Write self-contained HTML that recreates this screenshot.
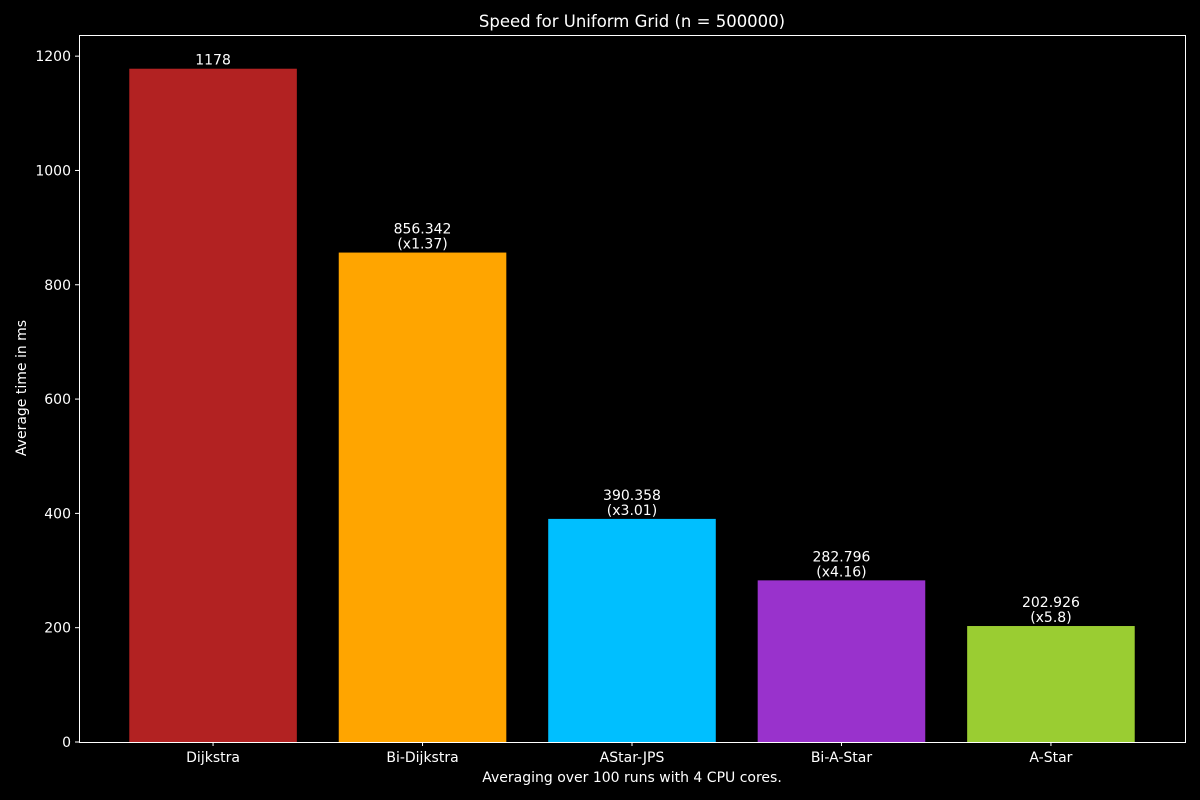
<!DOCTYPE html>
<html><head><meta charset="utf-8"><style>
html,body{margin:0;padding:0;background:#000;overflow:hidden;width:1200px;height:800px;}
svg{display:block;}
svg text{font-family:"DejaVu Sans","Liberation Sans",sans-serif;fill:#fff;}
</style></head><body>
<svg id="chart" width="1200" height="800" xmlns="http://www.w3.org/2000/svg">
<rect width="1200" height="800" fill="#000"/>
<text x="632" y="27" font-size="16.5" text-anchor="middle">Speed for Uniform Grid (n = 500000)</text>
<text x="632" y="782" font-size="14" text-anchor="middle">Averaging over 100 runs with 4 CPU cores.</text>
<text transform="translate(26,388) rotate(-90)" font-size="14" text-anchor="middle">Average time in ms</text>
<g id="bars"></g>
<g id="axes"></g>
</svg>
<script>
const categories=["Dijkstra","Bi-Dijkstra","AStar-JPS","Bi-A-Star","A-Star"];
const values=[1178,856.342,390.358,282.796,202.926];
const speedups=["","(x1.37)","(x3.01)","(x4.16)","(x5.8)"];
const valueLabels=["1178","856.342","390.358","282.796","202.926"];
const colors=["#b22222","#ffa500","#00bfff","#9932cc","#9acd32"];
const yTicks=[0,200,400,600,800,1000,1200];
const L=79,R=1185,T=35,B=742;
const yMax=1237;
const y=v=>B-(v/yMax)*(B-T);
const xStep=(R-L)/5.28;
const x=i=>L+(i+0.64)*xStep;
const NS="http://www.w3.org/2000/svg";
const bars=document.getElementById('bars'),axes=document.getElementById('axes');
function mk(tag,attrs,parent){const e=document.createElementNS(NS,tag);for(const k in attrs)e.setAttribute(k,attrs[k]);parent.appendChild(e);return e;}
categories.forEach((c,i)=>{
  const bw=0.8*xStep;
  const r=mk('rect',{x:x(i)-bw/2,y:y(values[i]),width:bw,height:B-y(values[i]),fill:colors[i]},bars);
  
  
  const hasS=speedups[i]!=="";
  const t1=mk('text',{x:x(i),y:y(values[i])-(hasS?19:4),'font-size':14,'text-anchor':'middle'},bars);
  t1.textContent=valueLabels[i];
  
  
  if(hasS){const t2=mk('text',{x:x(i),y:y(values[i])-4,'font-size':14,'text-anchor':'middle'},bars);
  t2.textContent=speedups[i];
  
  }
  mk('line',{x1:x(i),x2:x(i),y1:B,y2:B+4,stroke:'#fff'},axes);
  const xl=mk('text',{x:x(i),y:B+20,'font-size':14,'text-anchor':'middle'},axes);
  xl.textContent=c;
  
  
});
yTicks.forEach(v=>{
  mk('line',{x1:L-4,x2:L,y1:y(v),y2:y(v),stroke:'#fff'},axes);
  const t=mk('text',{x:L-8,y:y(v)+5,'font-size':14,'text-anchor':'end'},axes);
  t.textContent=v;
  
  
});
const f=mk('rect',{x:L+0.5,y:T+0.5,width:R-L,height:B-T,fill:'none',stroke:'#fff','stroke-width':1},axes);


</script>
</body></html>
